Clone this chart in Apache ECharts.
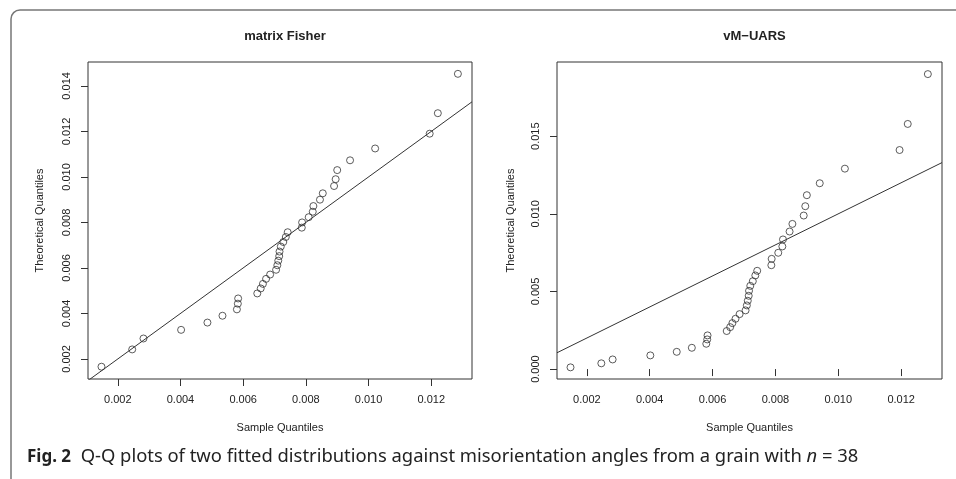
<!DOCTYPE html>
<html>
<head>
<meta charset="utf-8">
<script src="https://cdn.jsdelivr.net/npm/echarts@6/dist/echarts.min.js"></script>
<style>
  html, body { margin: 0; padding: 0; background: #fff; }
  #chart { width: 956px; height: 479px; }
</style>
</head>
<body>
<div id="chart"></div>
<script>
// sample quantiles (same 38 misorientation angles in both panels)
const sampleQ = [0.00148, 0.00246, 0.00282, 0.00402, 0.00486, 0.00534, 0.00580, 0.00583, 0.00584,
  0.00645, 0.00656, 0.00663, 0.00673, 0.00686, 0.00705, 0.00709, 0.00712, 0.00715, 0.00716,
  0.00720, 0.00728, 0.00736, 0.00742, 0.00787, 0.00788, 0.00809, 0.00822, 0.00824, 0.00845,
  0.00854, 0.00890, 0.00895, 0.00900, 0.00941, 0.01021, 0.01195, 0.01221, 0.01285];

// theoretical quantiles, matrix Fisher
const fisherQ = [0.00166, 0.00242, 0.00290, 0.00328, 0.00360, 0.00390, 0.00418, 0.00443, 0.00466,
  0.00488, 0.00510, 0.00530, 0.00552, 0.00571, 0.00592, 0.00612, 0.00632, 0.00652, 0.00672,
  0.00694, 0.00714, 0.00736, 0.00757, 0.00777, 0.00800, 0.00823, 0.00847, 0.00872, 0.00900,
  0.00928, 0.00960, 0.00990, 0.01030, 0.01073, 0.01125, 0.01190, 0.01280, 0.01453];

// theoretical quantiles, vM-UARS
const uarsQ = [0.00011, 0.00037, 0.00062, 0.00088, 0.00111, 0.00137, 0.00163, 0.00191, 0.00217,
  0.00245, 0.00270, 0.00296, 0.00324, 0.00354, 0.00378, 0.00410, 0.00440, 0.00472, 0.00504,
  0.00536, 0.00566, 0.00603, 0.00633, 0.00669, 0.00710, 0.00749, 0.00790, 0.00835, 0.00886,
  0.00935, 0.00989, 0.01049, 0.01120, 0.01197, 0.01291, 0.01411, 0.01579, 0.01900];

const xTicks = [0.002, 0.004, 0.006, 0.008, 0.010, 0.012];
const fisherTicks = [0.002, 0.004, 0.006, 0.008, 0.010, 0.012, 0.014];
const uarsTicks = [0.000, 0.005, 0.010, 0.015];

// reference line y = x
const refLine = { intercept: 0, slope: 1 };

const xRange = [0.00105, 0.0133];
const fisherRange = [0.00112, 0.01505];
const uarsRange = [-0.00064, 0.01978];

const ink = '#222';
const axisFont = { fontFamily: 'Liberation Sans', fontSize: 11, color: ink };

function xAxisFor(gridIndex) {
  return {
    type: 'value', gridIndex,
    min: xRange[0], max: xRange[1],
    name: 'Sample Quantiles', nameLocation: 'middle', nameGap: 43,
    nameTextStyle: axisFont,
    axisLine: { show: false },
    splitLine: { show: false },
    axisTick: { show: true, length: 7, lineStyle: { color: '#333' }, customValues: xTicks },
    axisLabel: Object.assign({ margin: 15, customValues: xTicks, formatter: v => v.toFixed(3) }, axisFont)
  };
}

function yAxisFor(gridIndex, range, ticks, gap) {
  return {
    type: 'value', gridIndex,
    min: range[0], max: range[1],
    name: 'Theoretical Quantiles', nameLocation: 'middle', nameGap: gap,
    nameTextStyle: axisFont,
    axisLine: { show: false },
    splitLine: { show: false },
    axisTick: { show: true, length: 7, lineStyle: { color: '#333' }, customValues: ticks },
    axisLabel: Object.assign({ margin: 16, rotate: 90, customValues: ticks, formatter: v => v.toFixed(3) }, axisFont)
  };
}

function pointsSeries(i, yq) {
  return {
    type: 'scatter', xAxisIndex: i, yAxisIndex: i,
    data: sampleQ.map((x, k) => [x, yq[k]]),
    symbol: 'circle', symbolSize: 7,
    itemStyle: { color: 'rgba(0,0,0,0)', borderColor: '#333', borderWidth: 1 },
    silent: true, animation: false
  };
}

function lineSeries(i) {
  return {
    type: 'line', xAxisIndex: i, yAxisIndex: i,
    data: xRange.map(x => [x, refLine.intercept + refLine.slope * x]),
    symbol: 'none', clip: true,
    lineStyle: { color: '#333', width: 1 },
    silent: true, animation: false
  };
}

const chart = echarts.init(document.getElementById('chart'));
chart.setOption({
  animation: false,
  backgroundColor: '#fff',
  title: [
    { text: 'matrix Fisher', left: 280, top: 25, textAlign: 'center',
      textStyle: { fontFamily: 'Liberation Sans', fontSize: 13, fontWeight: 'bold', color: ink } },
    { text: 'vM\u2212UARS', left: 749.5, top: 25, textAlign: 'center',
      textStyle: { fontFamily: 'Liberation Sans', fontSize: 13, fontWeight: 'bold', color: ink } }
  ],
  grid: [
    { left: 88, top: 62, width: 384, height: 317, show: true, borderColor: '#333', borderWidth: 1 },
    { left: 557, top: 62, width: 385, height: 317, show: true, borderColor: '#333', borderWidth: 1 }
  ],
  xAxis: [xAxisFor(0), xAxisFor(1)],
  yAxis: [yAxisFor(0, fisherRange, fisherTicks, 43), yAxisFor(1, uarsRange, uarsTicks, 41)],
  series: [pointsSeries(0, fisherQ), lineSeries(0), pointsSeries(1, uarsQ), lineSeries(1)],
  graphic: [
    { type: 'rect', shape: { x: 11, y: 10, width: 1000, height: 600, r: 9 },
      style: { fill: 'none', stroke: '#777', lineWidth: 1.5 }, silent: true },
    { type: 'text', left: 27, top: 448,
      style: {
        text: '{b|Fig. 2}  Q-Q plots of two fitted distributions against misorientation angles from a grain with {i|n} = 38',
        fontFamily: 'Noto Sans', fontSize: 18.4, fill: '#222',
        rich: {
          b: { fontFamily: 'Noto Sans', fontSize: 17, fontWeight: 'bold', fill: '#222' },
          i: { fontFamily: 'Noto Sans', fontSize: 18.4, fontStyle: 'italic', fill: '#222' }
        }
      }, silent: true }
  ]
});
</script>
</body>
</html>
